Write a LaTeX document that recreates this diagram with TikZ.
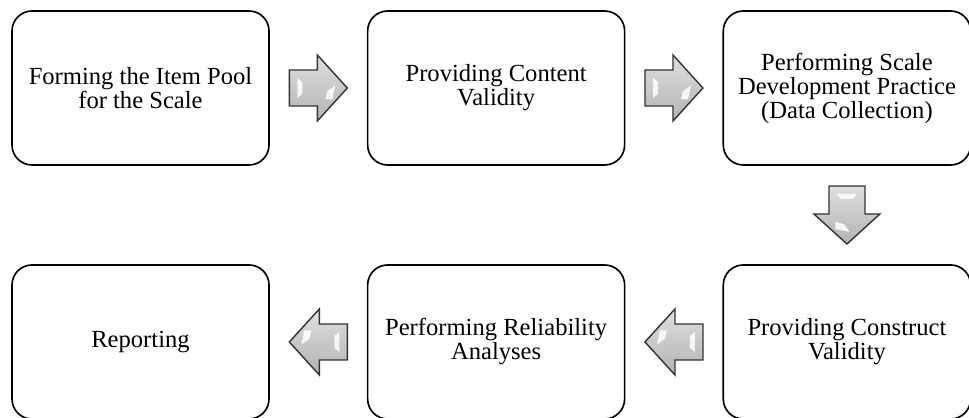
\documentclass[tikz,border=0pt]{standalone}
\usepackage{fontspec}
\setmainfont{Liberation Serif}
\usetikzlibrary{positioning, calc}

\tikzset{bigarrow/.pic={
		\draw[arrowbody] (-0.87,-0.54) -- (-0.03,-0.54) -- (-0.03,-0.99) -- (0.87,0)
		-- (-0.03,0.99) -- (-0.03,0.54) -- (-0.87,0.54) -- cycle;
		\fill[white,opacity=0.85] (-0.63,0.30) -- (-0.48,0.18) -- (-0.48,-0.18) -- (-0.63,-0.30) -- cycle;
		\fill[white,opacity=0.85] (0.51,0.075) -- (0.27,-0.09) -- (0.21,-0.345) -- (0.42,-0.345) -- cycle;
}}

\begin{document}
\begin{tikzpicture}
	\tikzstyle{every path}=[line width=1.4pt]
	
	\tikzstyle{stepbox}=[draw=black, rounded corners=0.6cm, minimum width=7.71cm,
	minimum height=4.62cm, align=center, font=\fontsize{21}{20.5}\selectfont]
	\tikzstyle{narrowbox}=[stepbox, minimum width=7.42cm]
	\tikzstyle{arrowbody}=[draw=black!80, line width=1.2pt, line join=miter,
	top color=gray!25, bottom color=gray!60]
	\tikzset{node distance=2.95cm and 2.91cm}
	
	\useasboundingbox (0,0) rectangle (29.07,-12.54);
	
	%% Linha de cima
	\node[stepbox] (pool) at (4.215,-2.64) {Forming the Item Pool\\for the Scale};
	\node[stepbox, right=of pool] (content) {Providing Content\\Validity};
	\node[narrowbox, right=of content] (practice) {Performing Scale\\Development Practice\\(Data Collection)};
	
	%% Linha de baixo
	\node[narrowbox, below=of practice] (construct) {Providing Construct\\Validity};
	\node[stepbox, left=of construct] (reliab) {Performing Reliability\\Analyses};
	\node[stepbox, left=of reliab] (report) {Reporting};
	
	%% Setas
	\pic at ($(pool.east)!0.5!(content.west)$) {bigarrow};
	\pic at ($(content.east)!0.5!(practice.west)$) {bigarrow};
	\pic[rotate=-90] at ($(practice.south)!0.5!(construct.north)$) {bigarrow};
	\pic[rotate=180] at ($(construct.west)!0.5!(reliab.east)$) {bigarrow};
	\pic[rotate=180] at ($(reliab.west)!0.5!(report.east)$) {bigarrow};
	
\end{tikzpicture}
\end{document}
